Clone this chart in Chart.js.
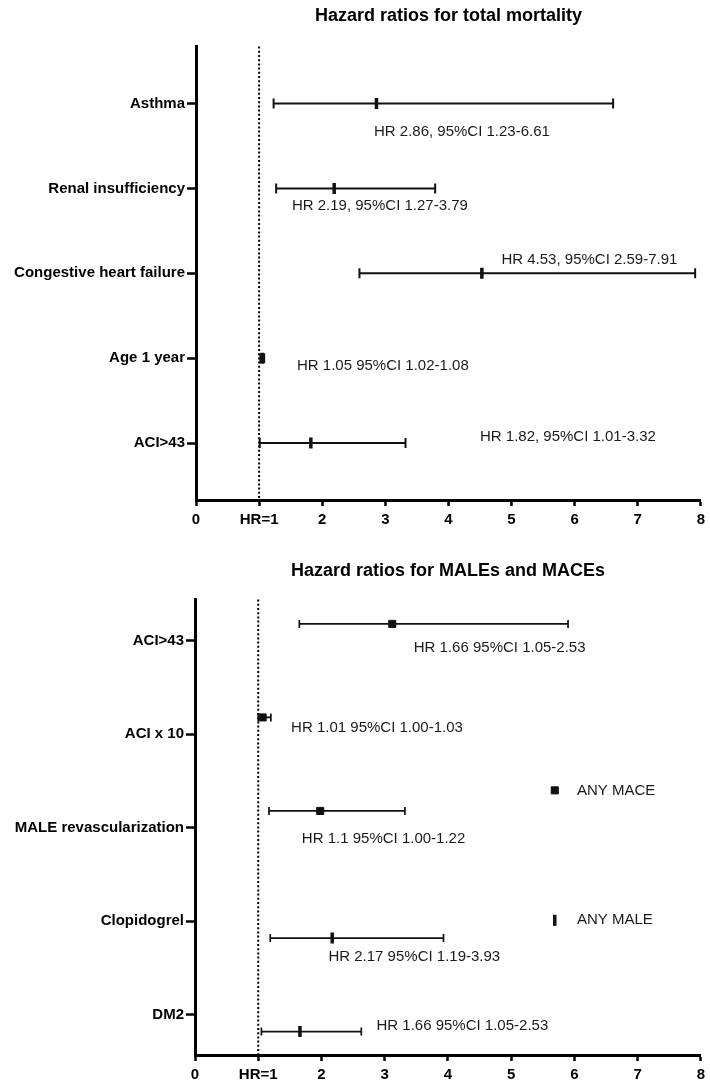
<!DOCTYPE html>
<html>
<head>
<meta charset="utf-8">
<script src="https://cdn.jsdelivr.net/npm/chart.js@4.4.1/dist/chart.umd.min.js"></script>
<style>
  html, body { margin: 0; padding: 0; background: #fff; }
  canvas { display: block; }
</style>
</head>
<body>
<canvas id="mortality" width="710" height="541"></canvas>
<canvas id="events" width="710" height="541"></canvas>
<script>
// x axis
const xTickLabels = ['0', 'HR=1', '2', '3', '4', '5', '6', '7', '8'];
const HR_REF = 1;

// top panel: total mortality
const mortalityRows = ['Asthma', 'Renal insufficiency', 'Congestive heart failure', 'Age 1 year', 'ACI>43'];
const mortalityHR = [2.86, 2.19, 4.53, 1.05, 1.82];
const mortalityLow = [1.23, 1.27, 2.59, 1.02, 1.01];
const mortalityHigh = [6.61, 3.79, 7.91, 1.08, 3.32];
const mortalityNotes = [
  'HR 2.86, 95%CI 1.23-6.61',
  'HR 2.19, 95%CI 1.27-3.79',
  'HR 4.53, 95%CI 2.59-7.91',
  'HR 1.05 95%CI 1.02-1.08',
  'HR 1.82, 95%CI 1.01-3.32'
];

// bottom panel: MALEs and MACEs
const eventRows = ['ACI>43', 'ACI x 10', 'MALE revascularization', 'Clopidogrel', 'DM2'];
const maceRows = ['ACI>43', 'ACI x 10', 'MALE revascularization'];
const maceHR = [3.12, 1.07, 1.98];
const maceLow = [1.65, 1.00, 1.17];
const maceHigh = [5.90, 1.20, 3.32];
const maleRows = ['Clopidogrel', 'DM2'];
const maleHR = [2.17, 1.66];
const maleLow = [1.19, 1.05];
const maleHigh = [3.93, 2.63];
const eventNotes = [
  'HR 1.66 95%CI 1.05-2.53',
  'HR 1.01 95%CI 1.00-1.03',
  'HR 1.1 95%CI 1.00-1.22',
  'HR 2.17 95%CI 1.19-3.93',
  'HR 1.66 95%CI 1.05-2.53'
];
const seriesNames = ['ANY MACE', 'ANY MALE'];

const FONT = '"Liberation Sans", Arial, Helvetica, sans-serif';
const INK = '#111';

// row name -> y value (first row on top)
function rowY(rows, name) {
  return rows.length - rows.indexOf(name);
}

// one line dataset per confidence interval, caps drawn as vertical point marks
function ciDatasets(rows, names, low, high, dy, lineW, capR) {
  return names.map((name, i) => ({
    showLine: true,
    data: [
      { x: low[i], y: rowY(rows, name) + dy },
      { x: high[i], y: rowY(rows, name) + dy }
    ],
    borderColor: INK,
    borderWidth: lineW,
    pointStyle: 'line',
    rotation: 90,
    pointRadius: capR,
    pointBorderWidth: lineW,
    pointBorderColor: INK,
    order: 2
  }));
}

const hrMark = { pointStyle: 'line', rotation: 90, radius: 5.5, borderWidth: 3.5 };
const squareMark = { pointStyle: 'rect', rotation: 0, radius: 5, borderWidth: 1 };

function markDataset(rows, names, hr, dy, mark) {
  return {
    data: names.map((name, i) => ({ x: hr[i], y: rowY(rows, name) + dy })),
    pointStyle: mark.pointStyle,
    rotation: mark.rotation,
    pointRadius: mark.radius,
    pointBorderWidth: mark.borderWidth,
    pointBackgroundColor: INK,
    pointBorderColor: INK,
    showLine: false,
    order: 1
  };
}

// dotted HR=1 line, text notes and the little legend
const forestExtras = {
  id: 'forestExtras',
  beforeDatasetsDraw(chart) {
    const { ctx, chartArea, scales } = chart;
    const x = scales.x.getPixelForValue(HR_REF);
    ctx.save();
    ctx.strokeStyle = '#000';
    ctx.lineWidth = 2;
    ctx.setLineDash([2, 2.2]);
    ctx.beginPath();
    ctx.moveTo(x, chartArea.top);
    ctx.lineTo(x, chartArea.bottom);
    ctx.stroke();
    ctx.restore();
  },
  afterDatasetsDraw(chart, args, opts) {
    const { ctx, scales } = chart;
    ctx.save();
    ctx.fillStyle = '#1a1a1a';
    ctx.font = '15px ' + FONT;
    ctx.textBaseline = 'middle';
    ctx.textAlign = 'left';
    (opts.notes || []).forEach(n => {
      ctx.fillText(n.text, scales.x.getPixelForValue(n.x), scales.y.getPixelForValue(n.y));
    });
    (opts.legend || []).forEach(l => {
      const px = scales.x.getPixelForValue(l.x);
      const py = scales.y.getPixelForValue(l.y);
      ctx.fillStyle = INK;
      ctx.strokeStyle = INK;
      ctx.lineWidth = l.mark.borderWidth;
      Chart.helpers.drawPoint(ctx, l.mark, px, py);
      ctx.fillStyle = '#1a1a1a';
      ctx.fillText(l.text, scales.x.getPixelForValue(l.textX), py);
    });
    ctx.restore();
  }
};

function forestOptions(rows, title, yMin, yMax, axisWidth, xHeight, titlePad, extras) {
  return {
    responsive: false,
    animation: false,
    devicePixelRatio: 1,
    events: [],
    layout: { padding: { left: 0, right: -5, top: 0, bottom: 0 } },
    plugins: {
      legend: { display: false },
      tooltip: { enabled: false },
      title: {
        display: true,
        text: title,
        fullSize: false,
        color: '#000',
        font: { family: FONT, size: 18, weight: 'bold' },
        padding: titlePad
      },
      forestExtras: extras
    },
    scales: {
      x: {
        type: 'linear',
        min: 0,
        max: 8,
        afterFit: s => { s.height = xHeight; },
        border: { display: true, color: '#000', width: 3 },
        grid: { drawOnChartArea: false, drawTicks: true, tickLength: 6, tickWidth: 2.5, tickColor: '#000' },
        ticks: {
          stepSize: 1,
          padding: 5,
          color: '#000',
          font: { family: FONT, size: 15, weight: 'bold' },
          callback: v => xTickLabels[v]
        }
      },
      y: {
        type: 'linear',
        min: yMin,
        max: yMax,
        afterFit: s => { s.width = axisWidth; },
        afterBuildTicks: s => { s.ticks = rows.map((_, i) => ({ value: rows.length - i })); },
        border: { display: true, color: '#000', width: 3 },
        grid: { drawOnChartArea: false, drawTicks: true, tickLength: 9, tickWidth: 2.5, tickColor: '#000' },
        ticks: {
          autoSkip: false,
          padding: 2,
          color: '#000',
          font: { family: FONT, size: 15, weight: 'bold' },
          callback: v => rows[rows.length - v]
        }
      }
    }
  };
}

// top chart
new Chart(document.getElementById('mortality'), {
  type: 'scatter',
  data: {
    datasets: [
      ...ciDatasets(mortalityRows, mortalityRows, mortalityLow, mortalityHigh, 0, 2, 5),
      markDataset(mortalityRows, mortalityRows, mortalityHR, 0, hrMark)
    ]
  },
  options: forestOptions(mortalityRows, 'Hazard ratios for total mortality', 0.33, 5.67, 196, 41,
    { top: 5, bottom: 20 },
    {
      notes: [
        { text: mortalityNotes[0], x: 2.82, y: 4.67 },
        { text: mortalityNotes[1], x: 1.52, y: 3.80 },
        { text: mortalityNotes[2], x: 4.84, y: 3.16 },
        { text: mortalityNotes[3], x: 1.60, y: 1.91 },
        { text: mortalityNotes[4], x: 4.50, y: 1.07 }
      ]
    }),
  plugins: [forestExtras]
});

// bottom chart
const ROW_SHIFT = 0.18;
new Chart(document.getElementById('events'), {
  type: 'scatter',
  data: {
    datasets: [
      ...ciDatasets(eventRows, maceRows, maceLow, maceHigh, ROW_SHIFT, 1.7, 4),
      ...ciDatasets(eventRows, maleRows, maleLow, maleHigh, -ROW_SHIFT, 1.7, 4),
      markDataset(eventRows, maceRows, maceHR, ROW_SHIFT, squareMark),
      markDataset(eventRows, maleRows, maleHR, -ROW_SHIFT, hrMark)
    ]
  },
  options: forestOptions(eventRows, 'Hazard ratios for MALEs and MACEs', 0.57, 5.44, 195, 27,
    { top: 19, bottom: 18 },
    {
      notes: [
        { text: eventNotes[0], x: 3.46, y: 4.92 },
        { text: eventNotes[1], x: 1.52, y: 4.07 },
        { text: eventNotes[2], x: 1.69, y: 2.88 },
        { text: eventNotes[3], x: 2.11, y: 1.62 },
        { text: eventNotes[4], x: 2.87, y: 0.88 }
      ],
      legend: [
        { text: seriesNames[0], x: 5.69, y: 3.40, textX: 6.04, mark: squareMark },
        { text: seriesNames[1], x: 5.69, y: 2.01, textX: 6.04, mark: hrMark }
      ]
    }),
  plugins: [forestExtras]
});
</script>
</body>
</html>
